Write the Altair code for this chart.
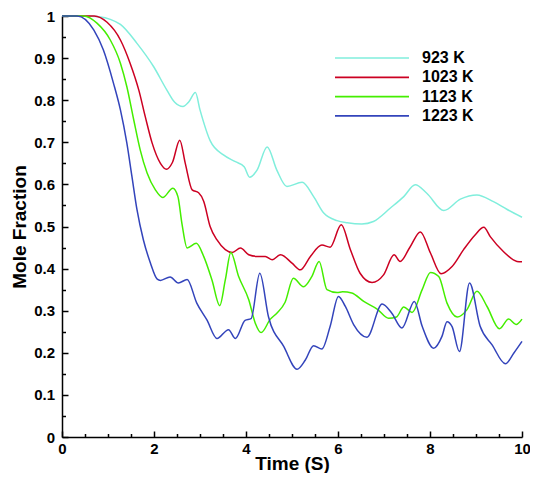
import altair as alt
import pandas as pd

FONT = "Liberation Sans"

series = ["923 K", "1023 K", "1123 K", "1223 K"]
colors = ["#80eedc", "#cc0022", "#44ee00", "#3344bb"]

t_923 = [0, 0.5, 0.8, 1.05, 1.27, 1.63, 1.99, 2.28, 2.45, 2.63, 2.75, 2.90, 3.0, 3.22, 3.51,
         3.77, 3.96, 4.08, 4.24, 4.46, 4.67, 4.89, 5.22, 5.47, 5.69, 5.98, 6.20, 6.52, 6.77,
         7.14, 7.43, 7.68, 7.93, 8.30, 8.66, 9.02, 9.38, 9.67, 10.0]
y_923 = [1.0, 1.0, 0.998, 0.992, 0.980, 0.935, 0.880, 0.824, 0.795, 0.785, 0.795, 0.818, 0.777, 0.704, 0.670,
         0.654, 0.642, 0.617, 0.634, 0.689, 0.634, 0.595, 0.605, 0.571, 0.532, 0.514, 0.509, 0.506, 0.512,
         0.544, 0.571, 0.599, 0.579, 0.538, 0.565, 0.575, 0.559, 0.541, 0.522]

t_1023 = [0, 0.7, 0.98, 1.27, 1.48, 1.67, 1.81, 1.96, 2.14, 2.27, 2.40, 2.56, 2.68, 2.83, 2.97,
          3.08, 3.22, 3.37, 3.55, 3.70, 3.88, 4.06, 4.24, 4.42, 4.57, 4.75, 5.0, 5.18, 5.40,
          5.65, 5.83, 6.07, 6.27, 6.48, 6.74, 6.99, 7.22, 7.35, 7.57, 7.79, 8.01, 8.24, 8.48,
          8.73, 8.98, 9.17, 9.31, 9.60, 9.89, 10.0]
y_1023 = [1.0, 1.0, 0.985, 0.943, 0.888, 0.824, 0.761, 0.698, 0.650, 0.636, 0.652, 0.705, 0.650, 0.587, 0.580,
          0.560, 0.500, 0.468, 0.445, 0.438, 0.449, 0.433, 0.429, 0.429, 0.421, 0.433, 0.413, 0.397, 0.429,
          0.456, 0.451, 0.504, 0.445, 0.389, 0.367, 0.385, 0.433, 0.417, 0.452, 0.487, 0.437, 0.388, 0.405,
          0.445, 0.480, 0.498, 0.476, 0.440, 0.417, 0.416]

t_1123 = [0, 0.47, 0.76, 1.05, 1.27, 1.41, 1.56, 1.70, 1.85, 2.03, 2.19, 2.41, 2.52, 2.61, 2.72,
          2.92, 3.08, 3.26, 3.43, 3.55, 3.67, 3.84, 4.06, 4.20, 4.33, 4.53, 4.67, 4.85, 5.03,
          5.25, 5.43, 5.59, 5.76, 5.98, 6.10, 6.30, 6.56, 6.85, 7.10, 7.27, 7.43, 7.61, 7.83,
          8.01, 8.19, 8.37, 8.59, 8.80, 9.02, 9.24, 9.51, 9.71, 9.87, 10.0]
y_1123 = [1.0, 1.0, 0.983, 0.943, 0.888, 0.832, 0.753, 0.682, 0.627, 0.587, 0.569, 0.591, 0.571, 0.505, 0.449,
          0.460, 0.429, 0.373, 0.312, 0.373, 0.438, 0.381, 0.326, 0.271, 0.248, 0.280, 0.294, 0.320, 0.377,
          0.357, 0.381, 0.417, 0.350, 0.343, 0.345, 0.342, 0.322, 0.304, 0.282, 0.285, 0.309, 0.296, 0.350,
          0.391, 0.381, 0.318, 0.285, 0.302, 0.346, 0.310, 0.257, 0.280, 0.267, 0.280]

t_1223 = [0, 0.33, 0.69, 0.90, 1.12, 1.27, 1.41, 1.52, 1.63, 1.77, 1.92, 2.07, 2.14, 2.35, 2.53,
          2.72, 2.93, 3.15, 3.37, 3.62, 3.77, 3.98, 4.11, 4.30, 4.49, 4.82, 5.11, 5.29, 5.47,
          5.65, 5.83, 6.01, 6.16, 6.34, 6.63, 6.96, 7.17, 7.39, 7.66, 7.83, 8.08, 8.26, 8.37,
          8.48, 8.64, 8.86, 9.09, 9.35, 9.64, 9.82, 10.0]
y_1223 = [1.0, 1.0, 0.967, 0.919, 0.840, 0.777, 0.698, 0.619, 0.540, 0.468, 0.414, 0.375, 0.372, 0.380, 0.366,
          0.374, 0.318, 0.278, 0.234, 0.255, 0.234, 0.277, 0.281, 0.389, 0.285, 0.215, 0.161, 0.183, 0.217,
          0.209, 0.263, 0.334, 0.310, 0.267, 0.237, 0.316, 0.294, 0.259, 0.322, 0.263, 0.211, 0.239, 0.274,
          0.262, 0.203, 0.366, 0.263, 0.219, 0.174, 0.199, 0.227]

x_tick_values = [0, 0.5, 1, 1.5, 2, 2.5, 3, 3.5, 4, 4.5, 5, 5.5, 6, 6.5, 7, 7.5, 8, 8.5, 9, 9.5, 10]
y_tick_values = [0, 0.05, 0.1, 0.15, 0.2, 0.25, 0.3, 0.35, 0.4, 0.45, 0.5, 0.55, 0.6, 0.65,
                 0.7, 0.75, 0.8, 0.85, 0.9, 0.95, 1.0]

rows = []
for name, ts, ys in [("923 K", t_923, y_923), ("1023 K", t_1023, y_1023),
                     ("1123 K", t_1123, y_1123), ("1223 K", t_1223, y_1223)]:
    for t, y in zip(ts, ys):
        rows.append({"series": name, "t": t, "y": y})
df = pd.DataFrame(rows)

major_x = "abs(datum.value / 2 - round(datum.value / 2)) < 0.001"
major_y = "abs(datum.value * 10 - round(datum.value * 10)) < 0.001"

common = dict(
    labelFont=FONT, labelFontSize=15, labelFontWeight="bold", labelColor="black",
    titleFont=FONT, titleFontSize=19, titleFontWeight="bold", titleColor="black",
    domainColor="black", domainWidth=1.5, tickColor="black", tickWidth=1.5,
    grid=False, labelFlush=False, labelOverlap=False,
)

x_axis = alt.Axis(
    values=x_tick_values, title="Time (S)",
    labelExpr=f"({major_x}) ? format(datum.value, 'd') : ''",
    tickSize=alt.ExprRef(expr=f"({major_x}) ? -6 : -3.5"),
    labelPadding=10, titleY=32, titleBaseline="alphabetic", **common,
)
y_axis = alt.Axis(
    values=y_tick_values, title="Mole Fraction",
    labelExpr=f"({major_y}) ? format(datum.value, '.1~f') : ''",
    tickSize=alt.ExprRef(expr=f"({major_y}) ? -6 : -3.5"),
    labelPadding=13.5, titleX=-37, titleBaseline="alphabetic", **common,
)

chart = alt.Chart(df).mark_line(strokeWidth=1.5, interpolate="monotone").encode(
    x=alt.X("t:Q", scale=alt.Scale(domain=[0, 10], nice=False, zero=False), axis=x_axis),
    y=alt.Y("y:Q", scale=alt.Scale(domain=[0, 1], nice=False), axis=y_axis),
    color=alt.Color(
        "series:N",
        scale=alt.Scale(domain=series, range=colors),
        legend=alt.Legend(
            title=None, orient="none", legendX=272, legendY=34,
            symbolType="stroke", symbolSize=5476, symbolStrokeWidth=1.7,
            clipHeight=16, rowPadding=3.3, labelOffset=12, padding=0,
            labelFont=FONT, labelFontSize=16, labelFontWeight="bold", labelColor="black",
        ),
    ),
).properties(
    width=460, height=421,
    autosize=alt.AutoSizeParams(type="none"),
    padding={"left": 54, "top": 8, "right": 8, "bottom": 36},
).configure_view(stroke=None)

chart.save("out.html", embed_options={"renderer": "svg", "actions": False})
